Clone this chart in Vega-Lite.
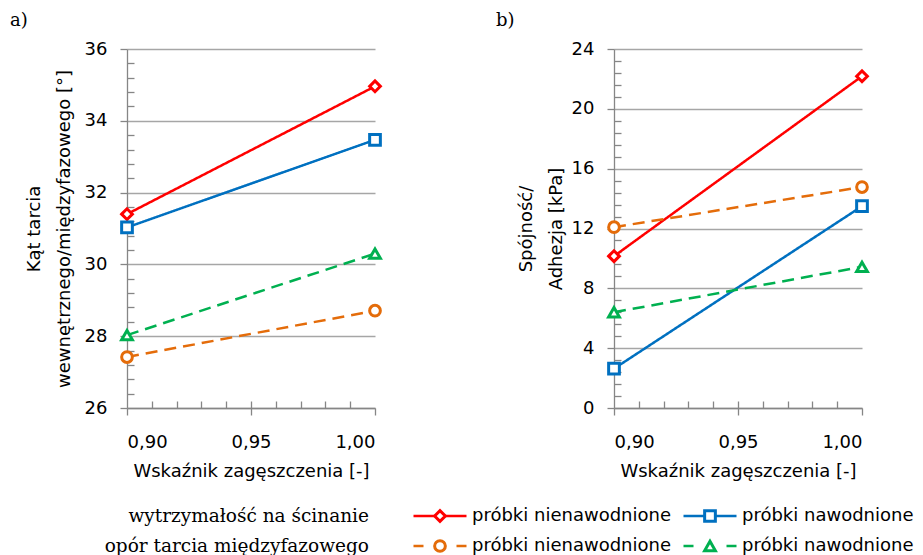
{
  "$schema": "https://vega.github.io/schema/vega-lite/v6.json",
  "padding": {"left": 10, "top": 12, "right": 0, "bottom": 0},
  "spacing": 21,
  "config": {
    "font": "DejaVu Sans",
    "view": {"stroke": null},
    "axis": {"labelFont": "DejaVu Sans", "labelFontSize": 18, "labelColor": "#000000", "titleFont": "DejaVu Sans", "titleFontSize": 18, "titleFontWeight": "normal", "titleColor": "#000000", "titleLineHeight": 30},
    "title": {"font": "DejaVu Serif", "fontSize": 18, "fontWeight": "normal", "color": "#000000"}
  },
  "vconcat": [
    {
      "spacing": 109,
      "hconcat": [
        {
          "width": 248, "height": 359,
          "title": {"text": "a)", "anchor": "start", "frame": "bounds", "dx": -15, "offset": 10},
          "data": {"values": [
            {"wskaznik": 0.90, "wartosc": 31.40, "seria": "wyt_nienaw"},
            {"wskaznik": 1.00, "wartosc": 34.96, "seria": "wyt_nienaw"},
            {"wskaznik": 0.90, "wartosc": 31.03, "seria": "wyt_naw"},
            {"wskaznik": 1.00, "wartosc": 33.47, "seria": "wyt_naw"},
            {"wskaznik": 0.90, "wartosc": 27.42, "seria": "opor_nienaw"},
            {"wskaznik": 1.00, "wartosc": 28.71, "seria": "opor_nienaw"},
            {"wskaznik": 0.90, "wartosc": 28.03, "seria": "opor_naw"},
            {"wskaznik": 1.00, "wartosc": 30.30, "seria": "opor_naw"}
          ]},
          "resolve": {"axis": {"x": "independent", "y": "independent"}},
          "layer": [
            {
              "mark": {"type": "line", "strokeWidth": 2.5},
              "encoding": {
                "x": {"field": "wskaznik", "type": "quantitative", "scale": {"domain": [0.9, 1.0], "nice": false, "zero": false},
                  "axis": {"values": [0.9, 0.95, 1.0], "labelExpr": "replace(format(datum.value, '.2f'), '.', ',')", "grid": false, "domainColor": "#868686", "domainWidth": 1.3, "tickColor": "#868686", "tickWidth": 1.3, "tickSize": 7, "labelPadding": 18, "title": "Wskaźnik zagęszczenia [-]", "titlePadding": 11}},
                "y": {"field": "wartosc", "type": "quantitative", "scale": {"domain": [26, 36], "nice": false, "zero": false},
                  "axis": {"values": [26, 28, 30, 32, 34, 36], "grid": true, "gridColor": "#a6a6a6", "gridWidth": 1.3, "domainColor": "#868686", "domainWidth": 1.3, "tickColor": "#868686", "tickWidth": 1.3, "tickSize": 7, "labelPadding": 13, "title": ["Kąt tarcia", "wewnętrznego/międzyfazowego [°]"], "titlePadding": 11}},
                "color": {"field": "seria", "type": "nominal", "legend": null, "scale": {"domain": ["wyt_nienaw", "wyt_naw", "opor_nienaw", "opor_naw"], "range": ["#ff0000", "#0070c0", "#e46c0a", "#00b050"]}},
                "strokeDash": {"field": "seria", "type": "nominal", "legend": null, "scale": {"domain": ["wyt_nienaw", "wyt_naw", "opor_nienaw", "opor_naw"], "range": [[1, 0], [1, 0], [12, 7], [12, 7]]}}
              }
            },
            {
              "mark": {"type": "point", "filled": false, "fill": "white", "fillOpacity": 1, "strokeWidth": 3, "size": 115, "opacity": 1},
              "encoding": {
                "x": {"field": "wskaznik", "type": "quantitative",
                  "axis": {"orient": "bottom", "values": [0.91, 0.92, 0.93, 0.94, 0.95, 0.96, 0.97, 0.98, 0.99], "labels": false, "domain": false, "grid": false, "tickColor": "#868686", "tickWidth": 1.3, "tickSize": -7, "title": null}},
                "y": {"field": "wartosc", "type": "quantitative",
                  "axis": {"orient": "left", "values": [26.4, 26.8, 27.2, 27.6, 28.4, 28.8, 29.2, 29.6, 30.4, 30.8, 31.2, 31.6, 32.4, 32.8, 33.2, 33.6, 34.4, 34.8, 35.2, 35.6], "labels": false, "domain": false, "grid": false, "tickColor": "#868686", "tickWidth": 1.3, "tickSize": -7, "title": null}},
                "color": {"field": "seria", "type": "nominal", "legend": null},
                "shape": {"field": "seria", "type": "nominal", "legend": null, "scale": {"domain": ["wyt_nienaw", "wyt_naw", "opor_nienaw", "opor_naw"], "range": ["diamond", "square", "circle", "triangle-up"]}}
              }
            }
          ]
        },
        {
          "width": 248, "height": 359,
          "title": {"text": "b)", "anchor": "start", "frame": "bounds", "dx": -21, "offset": 10},
          "data": {"values": [
            {"wskaznik": 0.90, "wartosc": 10.15, "seria": "wyt_nienaw"},
            {"wskaznik": 1.00, "wartosc": 22.18, "seria": "wyt_nienaw"},
            {"wskaznik": 0.90, "wartosc": 2.63, "seria": "wyt_naw"},
            {"wskaznik": 1.00, "wartosc": 13.49, "seria": "wyt_naw"},
            {"wskaznik": 0.90, "wartosc": 12.09, "seria": "opor_nienaw"},
            {"wskaznik": 1.00, "wartosc": 14.77, "seria": "opor_nienaw"},
            {"wskaznik": 0.90, "wartosc": 6.40, "seria": "opor_naw"},
            {"wskaznik": 1.00, "wartosc": 9.44, "seria": "opor_naw"}
          ]},
          "resolve": {"axis": {"x": "independent", "y": "independent"}},
          "layer": [
            {
              "mark": {"type": "line", "strokeWidth": 2.5},
              "encoding": {
                "x": {"field": "wskaznik", "type": "quantitative", "scale": {"domain": [0.9, 1.0], "nice": false, "zero": false},
                  "axis": {"values": [0.9, 0.95, 1.0], "labelExpr": "replace(format(datum.value, '.2f'), '.', ',')", "grid": false, "domainColor": "#868686", "domainWidth": 1.3, "tickColor": "#868686", "tickWidth": 1.3, "tickSize": 7, "labelPadding": 18, "title": "Wskaźnik zagęszczenia [-]", "titlePadding": 11}},
                "y": {"field": "wartosc", "type": "quantitative", "scale": {"domain": [0, 24], "nice": false, "zero": false},
                  "axis": {"values": [0, 4, 8, 12, 16, 20, 24], "grid": true, "gridColor": "#a6a6a6", "gridWidth": 1.3, "domainColor": "#868686", "domainWidth": 1.3, "tickColor": "#868686", "tickWidth": 1.3, "tickSize": 7, "labelPadding": 13, "title": ["Spójność/", "Adhezja [kPa]"], "titlePadding": 6}},
                "color": {"field": "seria", "type": "nominal", "legend": null},
                "strokeDash": {"field": "seria", "type": "nominal", "legend": null}
              }
            },
            {
              "mark": {"type": "point", "filled": false, "fill": "white", "fillOpacity": 1, "strokeWidth": 3, "size": 115, "opacity": 1},
              "encoding": {
                "x": {"field": "wskaznik", "type": "quantitative",
                  "axis": {"orient": "bottom", "values": [0.91, 0.92, 0.93, 0.94, 0.95, 0.96, 0.97, 0.98, 0.99], "labels": false, "domain": false, "grid": false, "tickColor": "#868686", "tickWidth": 1.3, "tickSize": -7, "title": null}},
                "y": {"field": "wartosc", "type": "quantitative",
                  "axis": {"orient": "left", "values": [0.8, 1.6, 2.4, 3.2, 4.8, 5.6, 6.4, 7.2, 8.8, 9.6, 10.4, 11.2, 12.8, 13.6, 14.4, 15.2, 16.8, 17.6, 18.4, 19.2, 20.8, 21.6, 22.4, 23.2], "labels": false, "domain": false, "grid": false, "tickColor": "#868686", "tickWidth": 1.3, "tickSize": -7, "title": null}},
                "color": {"field": "seria", "type": "nominal", "legend": null},
                "shape": {"field": "seria", "type": "nominal", "legend": null}
              }
            }
          ]
        }
      ]
    },
    {
      "width": 583, "height": 60,
      "data": {"values": [
        {"grupa": "wytrzymałość na ścinanie", "wariant": "próbki nienawodnione", "seria": "wyt_nienaw"},
        {"grupa": "wytrzymałość na ścinanie", "wariant": "próbki nawodnione", "seria": "wyt_naw"},
        {"grupa": "opór tarcia międzyfazowego", "wariant": "próbki nienawodnione", "seria": "opor_nienaw"},
        {"grupa": "opór tarcia międzyfazowego", "wariant": "próbki nawodnione", "seria": "opor_naw"}
      ]},
      "encoding": {
        "x": {"field": "wariant", "type": "nominal", "bandPosition": 1, "axis": null, "scale": {"type": "band", "domain": ["próbki nienawodnione", "próbki nawodnione"], "paddingInner": 0, "paddingOuter": 0.0796, "align": 1}},
        "y": {"field": "grupa", "type": "nominal", "axis": null, "scale": {"type": "band", "domain": ["wytrzymałość na ścinanie", "opór tarcia międzyfazowego"], "paddingInner": 0, "paddingOuter": 0}}
      },
      "layer": [
        {
          "transform": [{"filter": "datum.grupa === 'wytrzymałość na ścinanie'"}],
          "mark": {"type": "point", "shape": "stroke", "size": 2809, "filled": false, "strokeWidth": 2.5, "opacity": 1},
          "encoding": {"color": {"field": "seria", "type": "nominal", "legend": null}}
        },
        {
          "transform": [{"filter": "datum.grupa === 'opór tarcia międzyfazowego'"}],
          "mark": {"type": "point", "shape": "stroke", "size": 2809, "filled": false, "strokeWidth": 2.5, "strokeDash": [10, 33], "opacity": 1},
          "encoding": {"color": {"field": "seria", "type": "nominal", "legend": null}}
        },
        {
          "mark": {"type": "point", "filled": false, "fill": "white", "fillOpacity": 1, "strokeWidth": 3, "size": 115, "opacity": 1},
          "encoding": {
            "color": {"field": "seria", "type": "nominal", "legend": null},
            "shape": {"field": "seria", "type": "nominal", "legend": null}
          }
        },
        {
          "mark": {"type": "text", "align": "left", "baseline": "middle", "xOffset": 32, "font": "DejaVu Sans", "fontSize": 18, "color": "#000000"},
          "encoding": {"text": {"field": "wariant", "type": "nominal"}}
        },
        {
          "transform": [{"filter": "datum.wariant === 'próbki nienawodnione'"}],
          "mark": {"type": "text", "align": "right", "baseline": "middle", "xOffset": -71, "font": "DejaVu Serif", "fontSize": 18.5, "color": "#000000"},
          "encoding": {"text": {"field": "grupa", "type": "nominal"}}
        }
      ]
    }
  ]
}
